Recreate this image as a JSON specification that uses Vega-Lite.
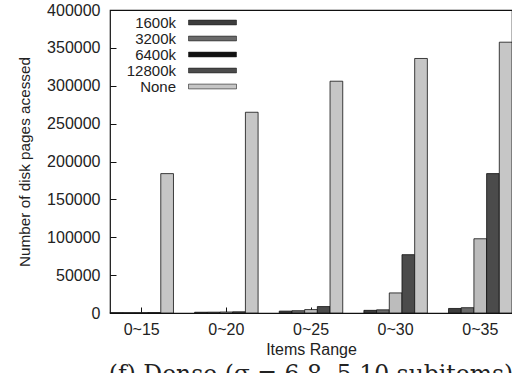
{
  "$schema": "https://vega.github.io/schema/vega-lite/v6.json",
  "autosize": "none",
  "padding": {"left": 110, "top": 10, "right": 0, "bottom": 60},
  "width": 402,
  "height": 303,
  "background": "white",
  "config": {
    "font": "Liberation Sans",
    "view": {"stroke": "#111", "strokeWidth": 1.2},
    "axis": {"labelFont": "Liberation Sans", "titleFont": "Liberation Sans", "labelColor": "#222", "titleColor": "#222", "domainColor": "#111", "tickColor": "#111", "grid": false}
  },
  "title": {
    "text": "(f) Dense (σ     = 6.8, 5.10 subitems)",
    "orient": "bottom",
    "anchor": "middle",
    "font": "DejaVu Serif",
    "fontSize": 23.5,
    "fontWeight": "normal",
    "color": "#222",
    "baseline": "top",
    "offset": 6
  },
  "data": {
    "values": [
      {"range": "0~15", "series": "1600k", "pages": 400},
      {"range": "0~15", "series": "3200k", "pages": 400},
      {"range": "0~15", "series": "6400k", "pages": 500},
      {"range": "0~15", "series": "12800k", "pages": 600},
      {"range": "0~15", "series": "None", "pages": 184000},
      {"range": "0~20", "series": "1600k", "pages": 1000},
      {"range": "0~20", "series": "3200k", "pages": 1100},
      {"range": "0~20", "series": "6400k", "pages": 1300},
      {"range": "0~20", "series": "12800k", "pages": 1600},
      {"range": "0~20", "series": "None", "pages": 265000},
      {"range": "0~25", "series": "1600k", "pages": 2500},
      {"range": "0~25", "series": "3200k", "pages": 3000},
      {"range": "0~25", "series": "6400k", "pages": 4500},
      {"range": "0~25", "series": "12800k", "pages": 8500},
      {"range": "0~25", "series": "None", "pages": 306000},
      {"range": "0~30", "series": "1600k", "pages": 3500},
      {"range": "0~30", "series": "3200k", "pages": 4200},
      {"range": "0~30", "series": "6400k", "pages": 26500},
      {"range": "0~30", "series": "12800k", "pages": 77000},
      {"range": "0~30", "series": "None", "pages": 336000},
      {"range": "0~35", "series": "1600k", "pages": 6000},
      {"range": "0~35", "series": "3200k", "pages": 7000},
      {"range": "0~35", "series": "6400k", "pages": 98000},
      {"range": "0~35", "series": "12800k", "pages": 184000},
      {"range": "0~35", "series": "None", "pages": 357500}
    ]
  },
  "encoding": {
    "x": {
      "field": "range", "type": "nominal", "sort": null,
      "scale": {"paddingInner": 0.25, "paddingOuter": 0},
      "axis": {"title": "Items Range", "labelAngle": 0, "labelFontSize": 16, "titleFontSize": 16, "titleFontWeight": "normal", "tickSize": -6, "labelPadding": 14, "titlePadding": 4, "domain": false}
    },
    "xOffset": {"field": "series", "type": "nominal", "sort": ["1600k", "3200k", "6400k", "12800k", "None"], "scale": {"paddingInner": 0, "paddingOuter": 0}},
    "y": {
      "field": "pages", "type": "quantitative",
      "scale": {"domain": [0, 400000], "nice": false},
      "axis": {"title": "Number of disk pages acessed", "values": [0, 50000, 100000, 150000, 200000, 250000, 300000, 350000, 400000], "format": "d", "labelFontSize": 16, "titleFontSize": 15.3, "titleFontWeight": "normal", "tickSize": -6, "labelPadding": 16, "titlePadding": 14, "domain": false, "labelBaseline": "middle"}
    }
  },
  "layer": [
    {
      "mark": {"type": "bar", "stroke": "#111", "strokeWidth": 0.8},
      "encoding": {
        "color": {
          "field": "series", "type": "nominal",
          "scale": {"domain": ["1600k", "3200k", "6400k", "12800k", "None"], "range": ["#3d3d3d", "#6a6a6a", "#bcbcbc", "#4b4b4b", "#c6c6c6"]},
          "legend": null
        }
      }
    },
    {
      "mark": {"type": "bar", "opacity": 0},
      "encoding": {
        "color": {
          "field": "series", "type": "nominal",
          "sort": ["1600k", "3200k", "6400k", "12800k", "None"],
          "scale": {"domain": ["1600k", "3200k", "6400k", "12800k", "None"], "range": ["#3d3d3d", "#6a6a6a", "#111111", "#4b4b4b", "#c6c6c6"]},
          "legend": {
            "title": null, "orient": "none", "legendX": 95, "legendY": 5,
            "symbolType": "M-4,-0.4H4V0.4H-4Z", "symbolSize": 144, "symbolStrokeColor": "#222", "symbolStrokeWidth": 0.6, "symbolOpacity": 1,
            "labelFontSize": 15, "labelColor": "#222", "labelAlign": "right", "labelOffset": -44, "rowPadding": 0, "labelBaseline": "middle"
          }
        }
      }
    }
  ],
  "resolve": {"scale": {"color": "independent"}}
}
